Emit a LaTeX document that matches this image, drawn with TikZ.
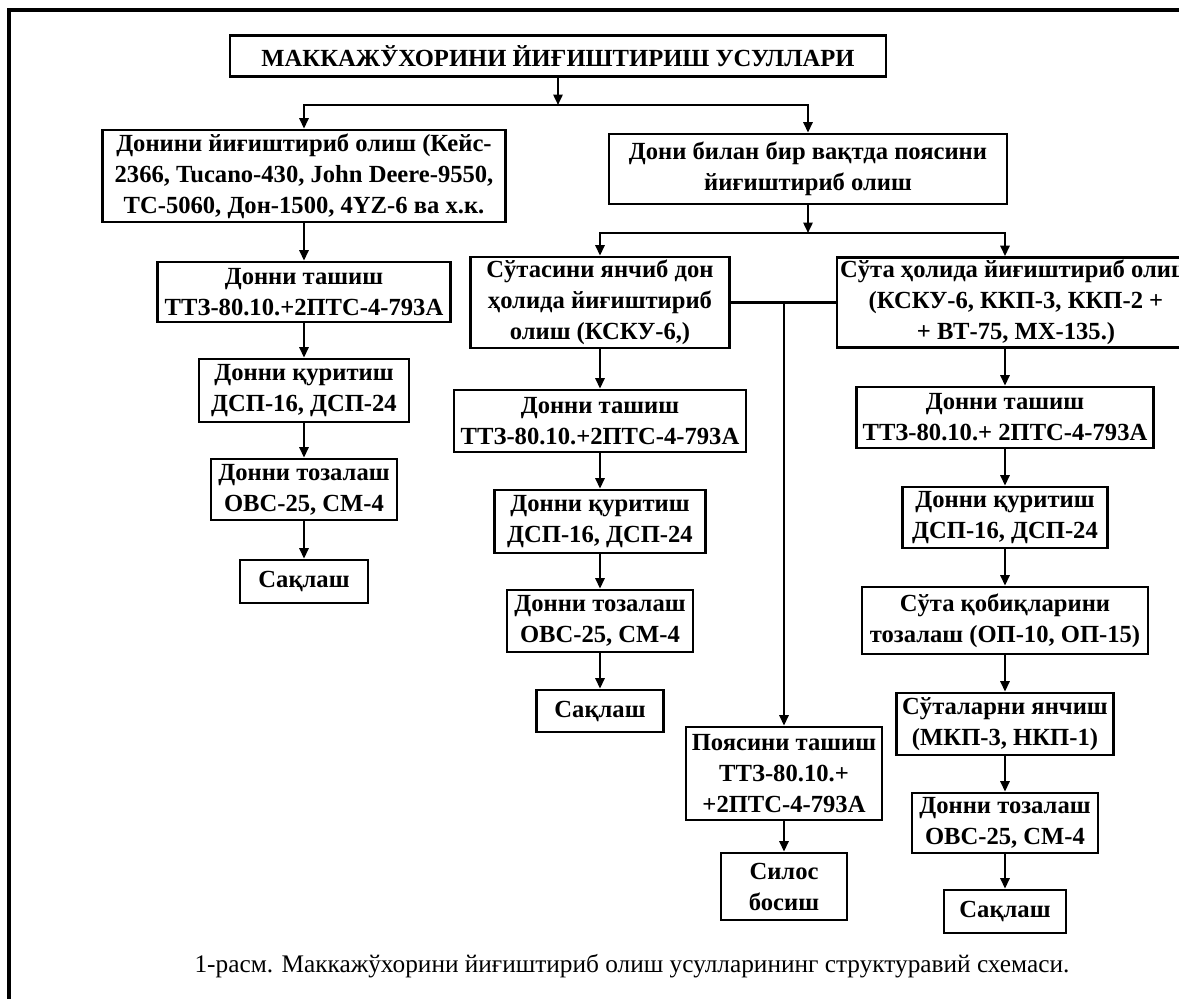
\documentclass[tikz,border=0pt]{standalone}
\usepackage{fontspec}
\setmainfont{Liberation Serif}
\usetikzlibrary{arrows.meta}
\newlength\pxl
\setlength\pxl{0.025cm}

\begin{document}
\begin{tikzpicture}[x=0.025cm, y=-0.025cm,
  box/.style={draw, line width=2pt, align=center, inner sep=0pt,
    font=\fontsize{17.5}{22}\selectfont\bfseries},
  ln/.style={line width=1.5pt},
  arr/.style={line width=1.5pt, -{Triangle[length=0.26cm, width=0.23cm]}}]
  \useasboundingbox (0, 0) rectangle (1179, 999);
  \clip (0, 0) rectangle (1179, 999);
  \draw[line width=2.2pt] (1179, 10) -- (9, 10) -- (9, 999);

  % top
  \node[box, minimum width=656\pxl, minimum height=41\pxl] (t) at (558, 56) {МАККАЖЎХОРИНИ ЙИҒИШТИРИШ УСУЛЛАРИ};
  \node[box, minimum width=403\pxl, minimum height=92\pxl] (l1) at (304, 176) {Донини йиғиштириб олиш (Кейс-\\2366, Tucano-430, John Deere-9550,\\ТС-5060, Дон-1500, 4YZ-6 ва х.к.};
  \node[box, minimum width=398\pxl, minimum height=70\pxl] (r1) at (808, 169) {Дони билан бир вақтда поясини\\йиғиштириб олиш};

  % left column
  \node[box, minimum width=293\pxl, minimum height=60\pxl] (l2) at (304, 292) {Донни ташиш\\ТТЗ-80.10.+2ПТС-4-793А};
  \node[box, minimum width=210\pxl, minimum height=63\pxl] (l3) at (304, 390.5) {Донни қуритиш\\ДСП-16, ДСП-24};
  \node[box, minimum width=186\pxl, minimum height=61\pxl] (l4) at (304, 489.5) {Донни тозалаш\\ОВС-25, СМ-4};
  \node[box, minimum width=128\pxl, minimum height=43\pxl] (l5) at (304, 581.5) {Сақлаш};

  % middle column
  \node[box, minimum width=259\pxl, minimum height=91\pxl] (m1) at (600, 302.5) {Сўтасини янчиб дон\\ҳолида йиғиштириб\\олиш (КСКУ-6,)};
  \node[box, minimum width=292\pxl, minimum height=62\pxl] (m2) at (600, 421) {Донни ташиш\\ТТЗ-80.10.+2ПТС-4-793А};
  \node[box, minimum width=211\pxl, minimum height=63\pxl] (m3) at (600, 521.5) {Донни қуритиш\\ДСП-16, ДСП-24};
  \node[box, minimum width=186\pxl, minimum height=62\pxl] (m4) at (600, 621) {Донни тозалаш\\ОВС-25, СМ-4};
  \node[box, minimum width=127\pxl, minimum height=42\pxl] (m5) at (600, 711) {Сақлаш};

  % stalks
  \node[box, minimum width=196\pxl, minimum height=93\pxl] (p1) at (784, 773.5) {Поясини ташиш\\ТТЗ-80.10.+\\+2ПТС-4-793А};
  \node[box, minimum width=126\pxl, minimum height=67\pxl] (p2) at (784, 886.5) {Силос\\босиш};

  % right column
  \node[box, minimum width=358\pxl, minimum height=90\pxl] (r3) at (1016, 302.5) {Сўта ҳолида йиғиштириб олиш\\(КСКУ-6, ККП-3, ККП-2 +\\+ ВТ-75, МХ-135.)};
  \node[box, minimum width=297\pxl, minimum height=61\pxl] (r4) at (1005, 417.5) {Донни ташиш\\ТТЗ-80.10.+ 2ПТС-4-793А};
  \node[box, minimum width=205\pxl, minimum height=61\pxl] (r5) at (1005, 517.5) {Донни қуритиш\\ДСП-16, ДСП-24};
  \node[box, minimum width=286\pxl, minimum height=67\pxl] (r6) at (1005, 620.5) {Сўта қобиқларини\\тозалаш (ОП-10, ОП-15)};
  \node[box, minimum width=217\pxl, minimum height=62\pxl] (r7) at (1005, 724) {Сўталарни янчиш\\(МКП-3, НКП-1)};
  \node[box, minimum width=186\pxl, minimum height=60\pxl] (r8) at (1005, 823) {Донни тозалаш\\ОВС-25, СМ-4};
  \node[box, minimum width=122\pxl, minimum height=43\pxl] (r9) at (1005, 911.5) {Сақлаш};

  \node[font=\fontsize{18}{22}\selectfont] (cap) at (632, 966) {1-расм. Маккажўхорини йиғиштириб олиш усулларининг структуравий схемаси.};

  % connectors
  \coordinate (b1) at (558, 105);
  \coordinate (b2) at (808, 233);
  \coordinate (r3n) at (r3.north -| r4);
  \coordinate (r3s) at (r3.south -| r4);
  \draw[arr] (t) -- (b1);
  \draw[arr] (b1) -| (l1);
  \draw[arr] (b1) -| (r1);
  \draw[arr] (r1) -- (b2);
  \draw[arr] (b2) -| (m1);
  \draw[arr] (b2) -| (r3n);
  \draw[arr] (l1) -- (l2);
  \draw[arr] (l2) -- (l3);
  \draw[arr] (l3) -- (l4);
  \draw[arr] (l4) -- (l5);
  \draw[arr] (m1) -- (m2);
  \draw[arr] (m2) -- (m3);
  \draw[arr] (m3) -- (m4);
  \draw[arr] (m4) -- (m5);
  \draw[ln] (m1.east) -- (r3.west);
  \draw[arr] (m1.east -| p1) -- (p1);
  \draw[arr] (p1) -- (p2);
  \draw[arr] (r3s) -- (r4);
  \draw[arr] (r4) -- (r5);
  \draw[arr] (r5) -- (r6);
  \draw[arr] (r6) -- (r7);
  \draw[arr] (r7) -- (r8);
  \draw[arr] (r8) -- (r9);
\end{tikzpicture}
\end{document}
